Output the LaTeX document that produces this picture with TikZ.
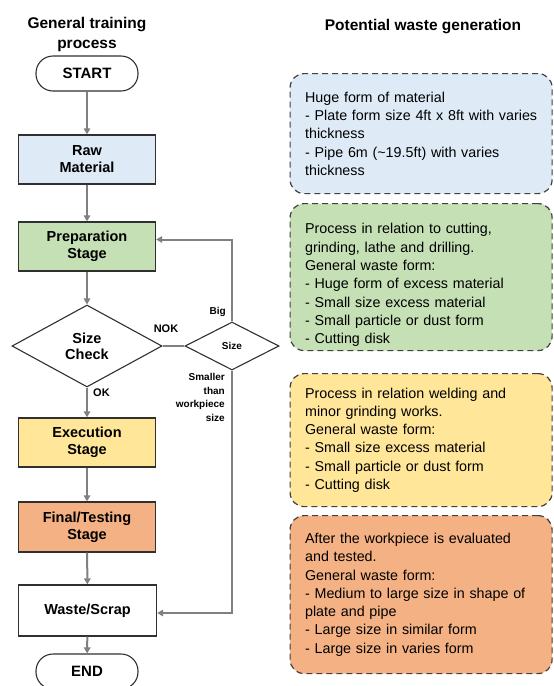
\documentclass[tikz,border=0pt]{standalone}
\usepackage{fontspec}
\setmainfont{Liberation Sans}
\usetikzlibrary{arrows.meta,shapes.geometric,calc}
\definecolor{cblue}{HTML}{DEEBF7}
\definecolor{cgreen}{HTML}{C5E0B4}
\definecolor{cyellow}{HTML}{FFE699}
\definecolor{corange}{HTML}{F4B183}
\definecolor{cline}{HTML}{808080}
\definecolor{cedge}{HTML}{303030}
\newcommand\myfs[2]{\fontsize{#1}{#2}\selectfont}
\begin{document}
\begin{tikzpicture}[x=1pt,y=-1pt,
  proc/.style={draw=cedge, line width=1.3pt, minimum width=137pt, minimum height=49pt, inner sep=0pt, font=\myfs{14.5}{17}\bfseries, align=center},
  term/.style={draw=cedge, line width=1.1pt, rounded corners=17pt, minimum width=102pt, minimum height=35pt, inner sep=0pt, font=\myfs{15}{18}\bfseries},
  dec/.style={diamond, draw=cedge, line width=1.1pt, inner sep=0pt, align=center},
  flow/.style={draw=cline, line width=2pt, -{Triangle[length=6pt,width=6.5pt]}},
  plain/.style={draw=cline, line width=2pt},
  wbox/.style={draw=black!75, dash pattern=on 6pt off 4pt, line width=1.2pt, rounded corners=14pt, minimum width=262pt, text width=232pt, inner xsep=15pt, inner ysep=0pt, align=left, font=\myfs{14.3}{18.3}, anchor=north west},
  lab/.style={font=\myfs{11}{13}\bfseries, inner sep=0pt},
  small/.style={font=\myfs{10}{13.5}\bfseries, align=right, inner sep=0pt}
]
\useasboundingbox (0,0) rectangle (554,686);
\clip (0,0) rectangle (554,686);

% titles
\node[font=\myfs{15.5}{20}\bfseries, align=center] (t1) at (87,34.5) {General training\\process};
\node[font=\myfs{15.5}{19}\bfseries] (t2) at (423,27) {Potential waste generation};

% flowchart
\node[term] (start) at (87,73.5) {START};
\node[proc, fill=cblue] (raw) at (87,159.5) {Raw\\Material};
\node[proc, fill=cgreen] (prep) at (87,246.5) {Preparation\\Stage};
\node[dec, minimum width=150pt, minimum height=82pt, aspect=1.83, font=\myfs{14.5}{16}\bfseries] (check) at (87,346) {Size\\Check};
\node[dec, minimum width=94pt, minimum height=48pt, aspect=1.96, font=\myfs{10}{12}\bfseries] (size) at (232,346) {Size};
\node[proc, fill=cyellow] (exec) at (87,442.5) {Execution\\Stage};
\node[proc, fill=corange, minimum height=50pt] (final) at (87,527) {Final/Testing\\Stage};
\node[proc, minimum width=138pt, minimum height=51pt] (waste) at (87.5,610.5) {Waste/Scrap};
\node[term] (end) at (87,671.5) {END};

% connectors
\draw[flow] (start) -- (raw);
\draw[flow] (raw) -- (prep);
\draw[flow] (prep) -- (check);
\draw[flow] (check) -- (exec);
\draw[flow] (exec) -- (final);
\draw[flow] (final) -- (waste);
\draw[flow] (waste) -- (end);
\draw[plain] (check.east) -- (size.west);
\draw[flow] (size.north) |- ($(prep.east)+(0,-7)$);
\draw[flow] (size.south) |- ($(waste.east)+(0,2.5)$);

% labels
\node[lab] (nok) at (166,329) {NOK};
\node[lab, anchor=west] (ok) at (93,393) {OK};
\node[small, anchor=east] (big) at (226,312) {Big};
\node[small, anchor=north east] (smaller) at (225,373.5) {Smaller\\than\\workpiece\\size};

% waste boxes
\node[wbox, fill=cblue, minimum height=120pt] (w1) at (289.5,73) {Huge form of material\\\mbox{- Plate form size 4ft x 8ft with varies}\\thickness\\- Pipe 6m (\textasciitilde19.5ft) with varies\\thickness};
\node[wbox, fill=cgreen, minimum height=147pt] (w2) at (289.5,203) {\rule{0pt}{26.5pt}Process in relation to cutting,\\grinding, lathe and drilling.\\General waste form:\\- Huge form of excess material\\- Small size excess material\\- Small particle or dust form\\- Cutting disk};
\node[wbox, fill=cyellow, minimum height=133pt] (w3) at (289.5,373) {Process in relation welding and\\minor grinding works.\\General waste form:\\- Small size excess material\\- Small particle or dust form\\- Cutting disk};
\node[wbox, fill=corange, minimum height=158pt] (w4) at (289.5,515) {After the workpiece is evaluated\\and tested.\\General waste form:\\- Medium to large size in shape of\\plate and pipe\\- Large size in similar form\\- Large size in varies form};
\end{tikzpicture}
\end{document}
